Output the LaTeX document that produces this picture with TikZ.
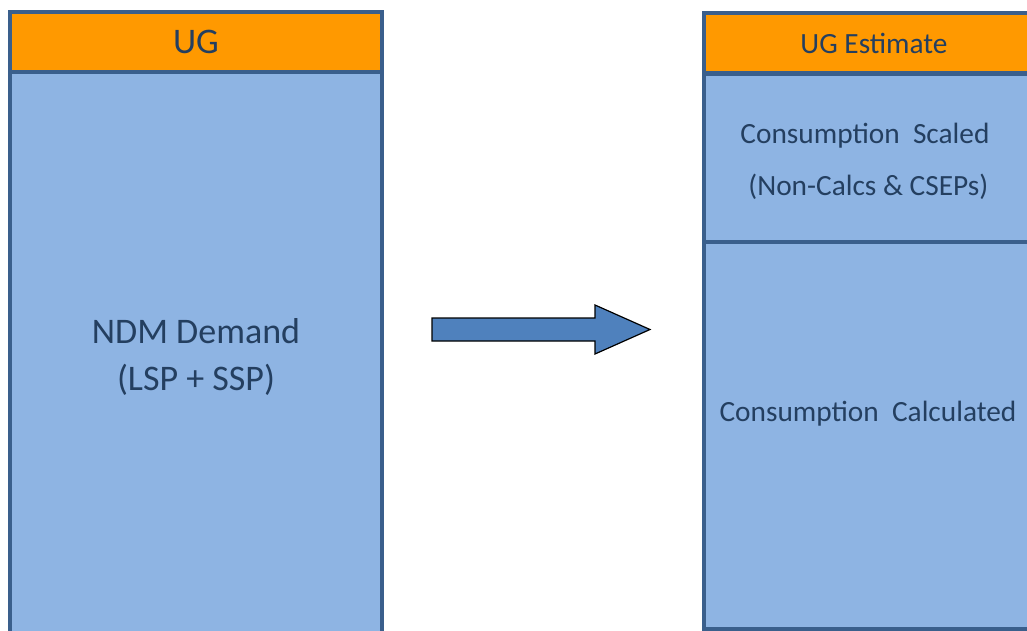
\documentclass[tikz,border=0pt]{standalone}
\usepackage{fontspec}
\setmainfont{Carlito}
\usetikzlibrary{positioning}
\definecolor{ugorange}{HTML}{FF9900}
\definecolor{boxblue}{HTML}{8EB4E3}
\definecolor{boxline}{HTML}{3A5F8C}
\definecolor{txtnavy}{HTML}{243F60}
\definecolor{arrowblue}{HTML}{4F81BD}
\begin{document}
\begin{tikzpicture}[x=0.75pt, y=-0.75pt,
head/.style={rectangle, draw=boxline, line width=2.4pt, fill=ugorange, text=txtnavy, inner sep=0pt},
part/.style={rectangle, draw=boxline, line width=2.4pt, fill=boxblue, text=txtnavy, inner sep=0pt, align=center}]
\def\px{0.75pt}
\useasboundingbox (0,0) rectangle (1027,631);
% UG
\node[part, minimum width=372*\px, minimum height=570*\px, font=\fontsize{27}{35}\selectfont] (ndm) at (196,357) {NDM Demand\\(LSP + SSP)};
\node[head, minimum width=372*\px, minimum height=60*\px, font=\fontsize{27}{30}\selectfont] (ug) at (196,42) {UG};
% UG Estimate
\node[part, minimum width=340*\px, minimum height=168*\px, font=\fontsize{22}{39}\selectfont] (scaled) at (874,158) {};
\node[text=txtnavy, align=center, font=\fontsize{22}{39}\selectfont] (scaledtxt) at (865,161) {Consumption~ Scaled\\ ~(Non-Calcs \& CSEPs)};
\node[part, minimum width=340*\px, minimum height=387*\px] (calc) at (874,435.5) {};
\node[text=txtnavy, font=\fontsize{22}{26}\selectfont] (calctxt) at (868,414) {Consumption~ Calculated};
\node[head, minimum width=340*\px, minimum height=60*\px, font=\fontsize{22}{26}\selectfont] (est) at (874,43) {UG Estimate};
%Arrow
\draw[fill=arrowblue, draw=black, line width=0.9pt] (432,318) -- (595,318) -- (595,305) -- (650,329.5) -- (595,354) -- (595,341) -- (432,341) -- cycle;
\end{tikzpicture}
\end{document}
